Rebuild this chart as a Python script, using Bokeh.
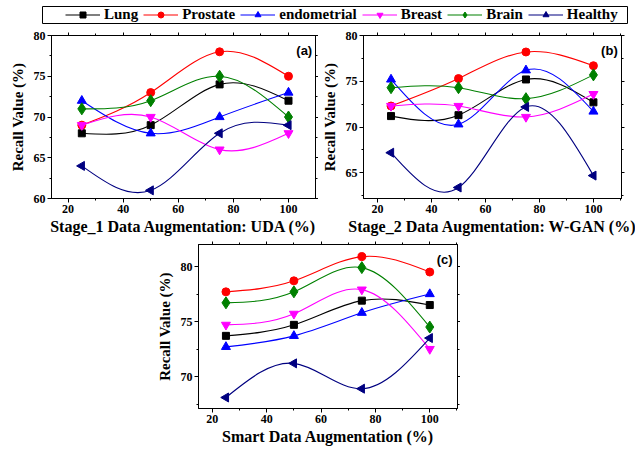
import numpy as np
from bokeh.plotting import figure
from bokeh.models import Range1d, LinearAxis, FixedTicker, Legend, LegendItem, Label, Spacer
from bokeh.layouts import column, row
from bokeh.embed import file_html
from bokeh.resources import INLINE

# ---------------- data ----------------
x_pct = [25, 50, 75, 100]
classes = ["Lung", "Prostate", "endometrial", "Breast", "Brain", "Healthy"]

# (a) Stage_1 Data Augmentation: UDA
uda_lung = [68, 69, 74, 72]
uda_prostate = [69, 73, 78, 75]
uda_endometrial = [72, 68, 70, 73]
uda_breast = [69, 70, 66, 68]
uda_brain = [71, 72, 75, 70]
uda_healthy = [64, 61, 68, 69]

# (b) Stage_2 Data Augmentation: W-GAN
wgan_lung = [71.2, 71.3, 75.2, 72.7]
wgan_prostate = [72.3, 75.3, 78.2, 76.7]
wgan_endometrial = [75.2, 70.3, 76.2, 71.7]
wgan_breast = [72.3, 72.3, 71.1, 73.6]
wgan_brain = [74.3, 74.3, 73.1, 75.7]
wgan_healthy = [67.2, 63.4, 72.2, 64.7]

# (c) Smart Data Augmentation
smart_lung = [73.7, 74.7, 76.9, 76.5]
smart_prostate = [77.7, 78.7, 80.9, 79.5]
smart_endometrial = [72.7, 73.7, 75.8, 77.5]
smart_breast = [74.7, 75.7, 77.9, 72.5]
smart_brain = [76.7, 77.7, 79.9, 74.5]
smart_healthy = [68.1, 71.2, 68.9, 73.5]

x_ticks = [20, 40, 60, 80, 100]
x_minor = [10, 20, 30, 40, 50, 60, 70, 80, 90, 100, 110]

# ---------------- styles ----------------
colors = ["#000000", "#FF0000", "#0000FF", "#FF00FF", "#008000", "#000080"]
markers = ["square", "circle", "triangle", "inverted_triangle", "diamond", "triangle"]
msizes = [7, 8, 9, 9, 12, 9]
angles = [0, 0, 0, 0, 0, np.pi / 2]

SERIF = "Liberation Serif"


def spline_beziers(xs, ys):
    """Natural cubic spline through the points, expressed as cubic Bezier segments."""
    xs = np.asarray(xs, float)
    ys = np.asarray(ys, float)
    n = len(xs)
    h = np.diff(xs)
    A = np.zeros((n, n))
    r = np.zeros(n)
    A[0, 0] = 1
    A[-1, -1] = 1
    for i in range(1, n - 1):
        A[i, i - 1] = h[i - 1]
        A[i, i] = 2 * (h[i - 1] + h[i])
        A[i, i + 1] = h[i]
        r[i] = 6 * ((ys[i + 1] - ys[i]) / h[i] - (ys[i] - ys[i - 1]) / h[i - 1])
    M = np.linalg.solve(A, r)
    d = np.zeros(n)
    for i in range(n - 1):
        d[i] = (ys[i + 1] - ys[i]) / h[i] - h[i] * (2 * M[i] + M[i + 1]) / 6
    d[-1] = (ys[-1] - ys[-2]) / h[-1] + h[-1] * (M[-2] + 2 * M[-1]) / 6
    return dict(
        x0=xs[:-1], y0=ys[:-1], x1=xs[1:], y1=ys[1:],
        cx0=xs[:-1] + h / 3, cy0=ys[:-1] + d[:-1] * h / 3,
        cx1=xs[1:] - h / 3, cy1=ys[1:] - d[1:] * h / 3,
    )


def style_axis(ax, label_size="12px", title_size="15px"):
    ax.axis_line_color = "black"
    ax.axis_line_width = 1
    ax.major_tick_line_color = "black"
    ax.minor_tick_line_color = "black"
    ax.major_tick_out = 4
    ax.major_tick_in = 0
    ax.minor_tick_out = 2
    ax.minor_tick_in = 0
    ax.major_label_text_font = SERIF
    ax.major_label_text_font_style = "bold"
    ax.major_label_text_font_size = label_size
    ax.major_label_text_color = "black"
    ax.axis_label_text_font = SERIF
    ax.axis_label_text_font_style = "bold"
    ax.axis_label_text_font_size = title_size
    ax.axis_label_text_color = "black"


def make_panel(series, xr, yr, yticks, xlabel, tag, tag_xy, width, height, borders):
    bl, br, bt, bb = borders
    p = figure(width=width, height=height, x_range=Range1d(*xr), y_range=Range1d(*yr),
               toolbar_location=None, output_backend="svg",
               min_border_left=bl, min_border_right=br, min_border_top=bt, min_border_bottom=bb)
    p.grid.visible = False
    p.outline_line_color = "black"
    p.outline_line_width = 1
    p.background_fill_color = "white"
    p.border_fill_color = "white"

    y_minor = [v / 2 for v in range(int(yticks[0] * 2) - 5, int(yticks[-1] * 2) + 6) if v % 5 == 0]
    p.xaxis.ticker = FixedTicker(ticks=x_ticks, minor_ticks=x_minor)
    p.yaxis.ticker = FixedTicker(ticks=yticks, minor_ticks=y_minor)
    for ax in p.xaxis:
        style_axis(ax, title_size="16px")
    for ax in p.yaxis:
        style_axis(ax, title_size="15px")
    p.xaxis.axis_label = xlabel
    p.xaxis.major_label_standoff = 2
    p.xaxis.axis_label_standoff = 2
    p.yaxis.axis_label = "Recall Value (%)"
    p.yaxis.major_label_standoff = 2
    p.yaxis.axis_label_standoff = 5

    # mirrored tick marks on top and right (Origin style), without labels
    top = LinearAxis(ticker=FixedTicker(ticks=x_ticks, minor_ticks=x_minor))
    right = LinearAxis(ticker=FixedTicker(ticks=yticks, minor_ticks=y_minor))
    for ax in (top, right):
        style_axis(ax, label_size="1px")
        ax.major_label_text_color = None
        ax.major_tick_out = 3
        ax.minor_tick_out = 2
        ax.major_label_standoff = 0
    p.add_layout(top, "above")
    p.add_layout(right, "right")

    for ys, c, m, s, a in zip(series, colors, markers, msizes, angles):
        p.bezier(line_color=c, line_width=1.1, **spline_beziers(x_pct, ys))
        p.scatter(x=x_pct, y=ys, marker=m, size=s, angle=a, fill_color=c, line_color=c)

    p.add_layout(Label(x=tag_xy[0], y=tag_xy[1], text=tag, text_align="right",
                       text_baseline="top", text_font="Liberation Sans",
                       text_font_style="bold", text_font_size="13px", text_color="black"))
    return p


pa = make_panel([uda_lung, uda_prostate, uda_endometrial, uda_breast, uda_brain, uda_healthy],
                (14.0, 109.8), (60, 80), [60, 65, 70, 75, 80],
                "Stage_1 Data Augmentation: UDA (%)", "(a)", (108.6, 79.1),
                318, 215, (51, 3, 8, 41))
pb = make_panel([wgan_lung, wgan_prostate, wgan_endometrial, wgan_breast, wgan_brain, wgan_healthy],
                (14.8, 110.4), (62.2, 80), [65, 70, 75, 80],
                "Stage_2 Data Augmentation: W-GAN (%)", "(b)", (109.0, 79.2),
                317, 215, (40, 14, 9, 43))
pc = make_panel([smart_lung, smart_prostate, smart_endometrial, smart_breast, smart_brain, smart_healthy],
                (14.9, 110.2), (67.1, 82), [70, 75, 80],
                "Smart Data Augmentation (%)", "(c)", (108.4, 81.3),
                307, 208, (42, 3, 3, 41))

# ---------------- shared legend ----------------
leg = figure(width=635, height=26, x_range=Range1d(0, 1), y_range=Range1d(0, 1),
             toolbar_location=None, output_backend="svg",
             x_axis_location=None, y_axis_location=None,
             min_border_left=42, min_border_right=8, min_border_top=6, min_border_bottom=3)
leg.grid.visible = False
leg.outline_line_color = "black"
leg.outline_line_width = 1
items = []
# legend-only renderers: the data lies outside this strip's ranges, so only the key glyphs show
for name, ys, c, m, s, a in zip(classes,
                                [uda_lung, uda_prostate, uda_endometrial, uda_breast, uda_brain, uda_healthy],
                                colors, markers, msizes, angles):
    rl = leg.line(x=x_pct, y=ys, line_color=c, line_width=1.1)
    rm = leg.scatter(x=x_pct, y=ys, marker=m, size=s, angle=a, fill_color=c, line_color=c)
    items.append(LegendItem(label=name, renderers=[rl, rm]))
legend = Legend(items=items, orientation="horizontal", location=(23, 0),
                padding=0, spacing=5, margin=0,
                glyph_width=35, glyph_height=15, label_standoff=4,
                label_text_font=SERIF, label_text_font_style="bold",
                label_text_font_size="15px", label_text_color="black",
                label_height=15,
                border_line_alpha=0, background_fill_alpha=0)
leg.add_layout(legend, "center")

layout = column(leg, row(pa, pb), row(Spacer(width=153, height=10), pc))

open("out.html", "w").write(file_html(layout, INLINE))
